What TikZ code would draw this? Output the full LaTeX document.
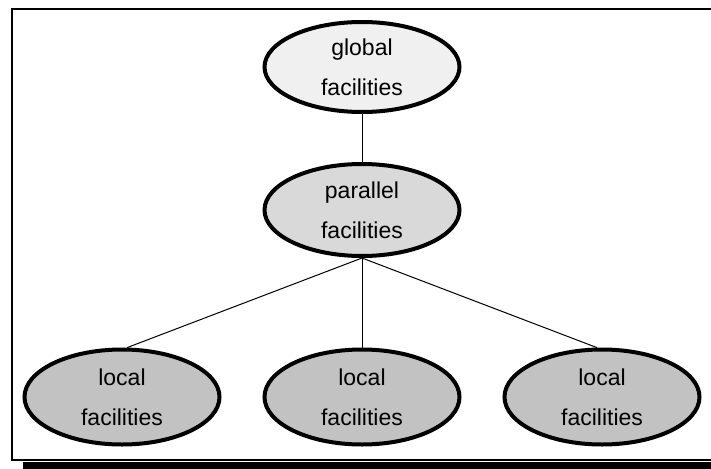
\documentclass[tikz,border=0pt]{standalone}
\usepackage{fontspec}
\setmainfont{Liberation Sans}
\usetikzlibrary{shapes.geometric}
\definecolor{globalfill}{gray}{0.94}
\definecolor{parfill}{gray}{0.85}
\definecolor{localfill}{gray}{0.76}
\tikzset{
  facility/.style={ellipse, draw=black, line width=4pt, inner sep=0pt,
    minimum width=195pt, minimum height=90pt, align=center,
    font=\fontsize{23}{40}\selectfont},
  link/.style={draw=black, line width=1pt}
}
\begin{document}
\begin{tikzpicture}[x=1pt, y=-1pt]
  \useasboundingbox (0,0) rectangle (711,468);
  \clip (0,0) rectangle (711,468);
  % page frame with drop shadow along the bottom
  \fill[black] (23,462) rectangle (740,480);
  \draw[line width=2pt] (12,9) rectangle (740,460);

  % facility hierarchy
  \node[facility, fill=globalfill] (glob) at (362,67) {global\\facilities};
  \node[facility, fill=parfill, minimum height=92pt] (par) at (362,210) {parallel\\facilities};
  \node[facility, fill=localfill, minimum height=95pt] (locA) at (122,397) {local\\facilities};
  \node[facility, fill=localfill, minimum height=95pt] (locB) at (362,397) {local\\facilities};
  \node[facility, fill=localfill, minimum height=95pt] (locC) at (602,397) {local\\facilities};

  % connectors
  \draw[link] (glob.south) -- (par.north);
  \draw[link] (par.south) -- (locA.84);
  \draw[link] (par.south) -- (locB.north);
  \draw[link] (par.south) -- (locC.96);
\end{tikzpicture}
\end{document}
